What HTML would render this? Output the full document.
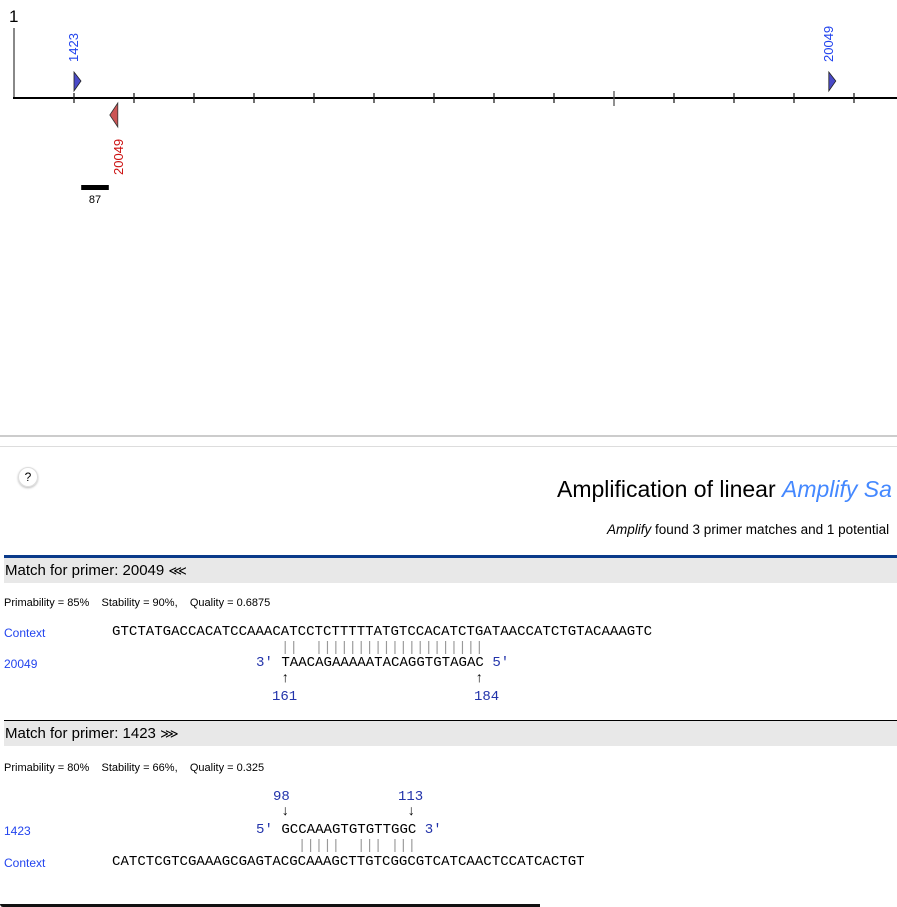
<!DOCTYPE html>
<html><head><meta charset="utf-8"><style>
body{margin:0;width:897px;height:907px;overflow:hidden;background:#fff;font-family:"Liberation Sans",sans-serif;position:relative}
.abs{position:absolute;white-space:pre}
.mono{font-family:"Liberation Mono",monospace;font-size:14.07px;line-height:15px}
.blue{color:#2233aa}
.lab{font-size:12px;color:#2244ee}
.band{position:absolute;left:4px;width:893px;height:25px;background:#e8e8e8;font-size:15px;line-height:25px;padding-left:1px}
.gray{color:#999}
</style></head><body>
<svg id="map" width="897" height="220" style="position:absolute;left:0;top:0">
<text x="9" y="22" font-size="17" font-family="Liberation Sans">1</text>
<line x1="14" y1="28" x2="14" y2="99" stroke="#888" stroke-width="2"/>
<line x1="13" y1="98" x2="897" y2="98" stroke="#000" stroke-width="2"/>
<g id="ticks"></g><g id="marks"></g>
</svg>
<script>
const tickValues=[100,200,300,400,500,600,700,800,900,1000,1100,1200,1300,1400];
const majorTicks=[1000];
const primerNames=["1423","20049","20049"];
const primerPositions=[100,173,1358];
const primerStrands=["fwd","rev","fwd"];
const productStarts=[112];
const productEnds=[158];
const productLabels=["87"];
const NS="http://www.w3.org/2000/svg";
function xs(bp){return 14+bp*0.6;}
const tg=document.getElementById('ticks'),mg=document.getElementById('marks');
function mk(t,a){const e=document.createElementNS(NS,t);for(const k in a)e.setAttribute(k,a[k]);return e;}
tickValues.forEach(v=>{const x=xs(v);const big=majorTicks.includes(v);
 const l=mk('line',{x1:x,x2:x,y1:big?91:93,y2:big?106:103,stroke:big?'#555':'#222','stroke-width':1.3});
 
 
 tg.appendChild(l);});
primerNames.forEach((n,i)=>{const x=xs(primerPositions[i]);const g=mk('g',{});
 
 
 if(primerStrands[i]==='fwd'){
  g.appendChild(mk('polygon',{points:`${x},72 ${x+7},81 ${x},91`,fill:'#4a4ac8',stroke:'#222','stroke-width':0.8}));
  const t=mk('text',{x:0,y:0,transform:`translate(${x+4},62) rotate(-90)`,'font-size':13,fill:'#2244ee','font-family':'Liberation Sans'});t.textContent=n;g.appendChild(t);
 }else{
  g.appendChild(mk('polygon',{points:`${x},103 ${x-8},115 ${x},127`,fill:'#cc5555',stroke:'#333','stroke-width':0.8}));
  const t=mk('text',{x:0,y:0,transform:`translate(${x+5},175) rotate(-90)`,'font-size':13,fill:'#cc1111','font-family':'Liberation Sans'});t.textContent=n;g.appendChild(t);
 }
 mg.appendChild(g);});
productStarts.forEach((s,i)=>{const x1=xs(s),x2=xs(productEnds[i]);
 const r=mk('rect',{x:x1,y:185,width:x2-x1,height:5,fill:'#000'});
 
 
 mg.appendChild(r);
 const t=mk('text',{x:(x1+x2)/2,y:203,'font-size':11,'text-anchor':'middle','font-family':'Liberation Sans'});t.textContent=productLabels[i];
 
 
 mg.appendChild(t);});
</script>
<div class="abs" style="left:0;top:435px;width:897px;height:2px;background:#ccc"></div>
<div class="abs" style="left:0;top:446px;width:897px;height:1px;background:#ddd"></div>
<div class="abs" style="left:18px;top:467px;width:18px;height:18px;border-radius:50%;border:1px solid #ddd;box-shadow:0 1px 2px #bbb;font-size:12px;text-align:center;line-height:18px">?</div>
<div class="abs" style="left:557px;top:476px;font-size:23px">Amplification of linear <i style="color:#4488ff">Amplify Sa</i></div>
<div class="abs" style="left:607px;top:522px;font-size:13.5px"><i>Amplify</i> found 3 primer matches and 1 potential</div>
<div class="abs" style="left:4px;top:555px;width:893px;height:3px;background:#0a3a8a"></div>
<div class="band" style="top:558px">Match for primer: 20049 <span style="font-size:13px">⋘</span></div>
<div class="abs" style="left:4px;top:597px;font-size:11px">Primability = 85%    Stability = 90%,    Quality = 0.6875</div>
<div class="abs lab" style="left:4px;top:626px">Context</div>
<div class="abs mono" style="left:112px;top:625px">GTCTATGACCACATCCAAACATCCTCTTTTTATGTCCACATCTGATAACCATCTGTACAAAGTC</div>
<div class="abs mono gray" style="left:281px;top:641px">||  ||||||||||||||||||||</div>
<div class="abs lab" style="left:4px;top:657px">20049</div>
<div class="abs mono" style="left:256px;top:656px"><span class="blue">3′</span> TAACAGAAAAATACAGGTGTAGAC <span class="blue">5′</span></div>
<div class="abs mono" style="left:281px;top:672px">↑</div>
<div class="abs mono" style="left:475px;top:672px">↑</div>
<div class="abs mono blue" style="left:272px;top:690px;font-size:14px">161</div>
<div class="abs mono blue" style="left:474px;top:690px;font-size:14px">184</div>
<div class="abs" style="left:4px;top:720px;width:893px;height:1px;background:#000"></div>
<div class="band" style="top:721px">Match for primer: 1423 <span style="font-size:13px">⋙</span></div>
<div class="abs" style="left:4px;top:762px;font-size:11px">Primability = 80%    Stability = 66%,    Quality = 0.325</div>
<div class="abs mono blue" style="left:273px;top:790px;font-size:14px">98</div>
<div class="abs mono blue" style="left:398px;top:790px;font-size:14px">113</div>
<div class="abs mono" style="left:281px;top:805px">↓</div>
<div class="abs mono" style="left:407px;top:805px">↓</div>
<div class="abs lab" style="left:4px;top:824px">1423</div>
<div class="abs mono" style="left:256px;top:823px"><span class="blue">5′</span> GCCAAAGTGTGTTGGC <span class="blue">3′</span></div>
<div class="abs mono gray" style="left:281px;top:839px">  |||||  ||| |||</div>
<div class="abs lab" style="left:4px;top:856px">Context</div>
<div class="abs mono" style="left:112px;top:855px">CATCTCGTCGAAAGCGAGTACGCAAAGCTTGTCGGCGTCATCAACTCCATCACTGT</div>
<div class="abs" style="left:0;top:904px;width:540px;height:3px;background:#111;border-bottom-left-radius:6px"></div>
</body></html>
